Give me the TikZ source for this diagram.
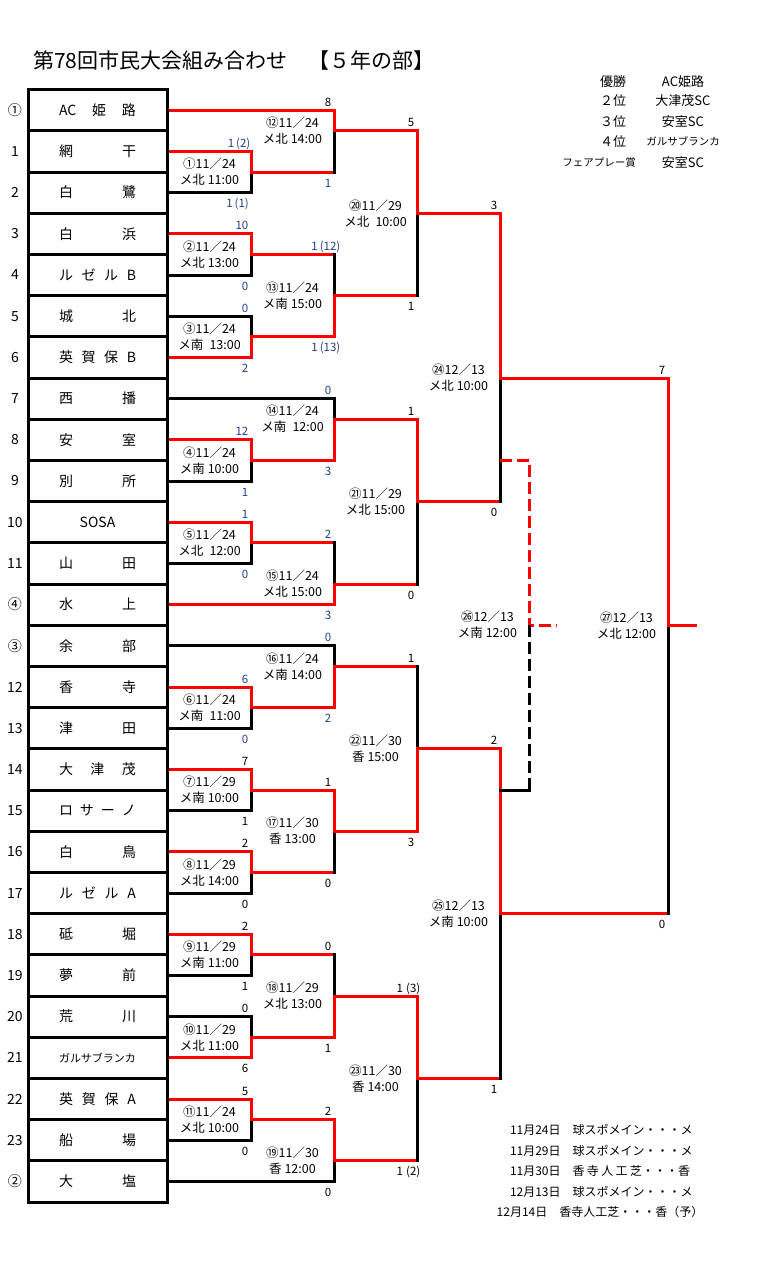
\documentclass[tikz,border=0pt]{standalone}
\usepackage{fontspec}
\setmainfont{Noto Sans CJK JP}
\usepackage{tikz}
\definecolor{bred}{RGB}{255,0,0}
\definecolor{navy}{RGB}{36,62,140}
\tikzstyle{won} = [draw=bred, line width=3pt, line cap=rect]
\tikzstyle{lost} = [draw=black, line width=3pt, line cap=rect]
\tikzset{
 team/.style
  = {rectangle, draw, line width=3pt, outer sep=3pt, inner sep=0pt,
     minimum width=139pt, minimum height=41.2pt, text width=77pt,
     align=center, font=\fontsize{14}{16}\selectfont},
 seed/.style
  = {font=\fontsize{14}{16}\selectfont},
 game/.style
  = {align=center, xshift=-41.5pt, inner sep=0pt, font=\fontsize{12.5}{16}\selectfont},
 scup/.style
  = {anchor=base east, yshift=4pt, inner sep=0pt, font=\fontsize{11.5}{13}\selectfont},
 scdn/.style
  = {anchor=base east, yshift=-15pt, inner sep=0pt, font=\fontsize{11.5}{13}\selectfont},
 rank/.style
  = {font=\fontsize{13}{15}\selectfont},
 ranks/.style
  = {font=\fontsize{10.5}{12}\selectfont},
 venue/.style
  = {text width=180pt, align=center, inner sep=0pt, font=\fontsize{12}{14}\selectfont},
}

\begin{document}
\begin{tikzpicture}[x=1pt, y=-20.6pt]
\useasboundingbox (0,-4.3495) rectangle (758,57.204);

% Title
\node[anchor=west, inner sep=0pt, font=\fontsize{21}{24}\selectfont] (ttl) at (33,-1.39)
  {第78回市民大会組み合わせ　【５年の部】};

% Teams
\foreach \sd/\nm [count=\i from 0] in {①/AC\hfill 姫\hfill 路, 1/網\hfill 干, 2/白\hfill 鷺,
  3/白\hfill 浜, 4/ル\hfill ゼ\hfill ル\hfill B, 5/城\hfill 北, 6/英\hfill 賀\hfill 保\hfill B,
  7/西\hfill 播, 8/安\hfill 室, 9/別\hfill 所, 10/SOSA, 11/山\hfill 田, ④/水\hfill 上,
  ③/余\hfill 部, 12/香\hfill 寺, 13/津\hfill 田, 14/大\hfill 津\hfill 茂,
  15/ロ\hfill サ\hfill ー\hfill ノ, 16/白\hfill 鳥, 17/ル\hfill ゼ\hfill ル\hfill A,
  18/砥\hfill 堀, 19/夢\hfill 前, 20/荒\hfill 川, 21/{\fontsize{11}{13}\selectfont ガルサブランカ},
  22/英\hfill 賀\hfill 保\hfill A, 23/船\hfill 場, ②/大\hfill 塩}
{
  \node[seed] (s\i) at (15,{2*\i+1}) {\sd};
  \node[team] (r\i) at (97.5,{2*\i+1}) {\nm};
}

% Match points
\foreach \m/\x/\h in {1/251/4, 2/251/8, 3/251/12, 4/251/18, 5/251/22, 6/251/30,
  7/251/34, 8/251/38, 9/251/42, 10/251/46, 11/251/50,
  12/334/2, 13/334/10, 14/334/16, 15/334/24, 16/334/28, 17/334/36, 18/334/44, 19/334/52,
  20/417/6, 21/417/20, 22/417/32, 23/417/48, 24/500/14, 25/500/40, 26/529/26, 27/668/26}
  \coordinate (g\m) at (\x,\h);
\coordinate (d1) at (500,18);
\coordinate (d2) at (500,34);
\coordinate (e26) at (557,26);
\coordinate (e27) at (695,26);

% Round 1
\foreach \m/\w/\l in {1/1/2, 2/3/4, 3/6/5, 4/8/9, 5/10/11, 6/14/15, 7/16/17,
  8/18/19, 9/20/21, 10/23/22, 11/24/25}
{
  \draw[lost] (r\l.east) -| (g\m);
  \draw[won] (r\w.east) -| (g\m);
}

% Seeded teams
\draw[lost] (r7.east) -| (g14);
\draw[lost] (r13.east) -| (g16);
\draw[lost] (r26.east) -| (g19);
\draw[won] (r0.east) -| (g12);
\draw[won] (r12.east) -| (g15);

% Later rounds
\foreach \s/\d in {1/12, 2/13, 5/15, 8/17, 9/18, 13/20, 15/21, 16/22, 19/23, 21/24, 23/25, 25/27}
  \draw[won] (g\s) -- (g\s -| g\d) edge[lost] (g\d);
\foreach \s/\d in {3/13, 4/14, 6/16, 7/17, 10/18, 11/19, 12/20, 14/21, 17/22, 18/23, 20/24, 22/25, 24/27}
  \draw[won] (g\s) -| (g\d);
\draw[won] (g27) -- (e27);

% Third place
\draw[won, line cap=butt, dash pattern=on 12pt off 5pt] (d1) -| (g26) -- (e26);
\draw[lost, line cap=butt, dash pattern=on 12pt off 5pt] (g26) -- (g26 |- d2) edge[lost, solid] (d2);

% Match labels
\foreach \m/\t in {1/{①11／24\\メ北 11:00}, 2/{②11／24\\メ北 13:00}, 3/{③11／24\\メ南\enspace 13:00},
  4/{④11／24\\メ南 10:00}, 5/{⑤11／24\\メ北\enspace 12:00}, 6/{⑥11／24\\メ南\enspace 11:00},
  7/{⑦11／29\\メ南 10:00}, 8/{⑧11／29\\メ北 14:00}, 9/{⑨11／29\\メ南 11:00},
  10/{⑩11／29\\メ北 11:00}, 11/{⑪11／24\\メ北 10:00}, 12/{⑫11／24\\メ北 14:00},
  13/{⑬11／24\\メ南 15:00}, 14/{⑭11／24\\メ南\enspace 12:00}, 15/{⑮11／24\\メ北 15:00},
  16/{⑯11／24\\メ南 14:00}, 17/{⑰11／30\\香 13:00}, 18/{⑱11／29\\メ北 13:00},
  19/{⑲11／30\\香 12:00}, 20/{⑳11／29\\メ北\enspace 10:00}, 21/{㉑11／29\\メ北 15:00},
  22/{㉒11／30\\香 15:00}, 23/{㉓11／30\\香 14:00}, 24/{㉔12／13\\メ北 10:00},
  25/{㉕12／13\\メ南 10:00}, 26/{㉖12／13\\メ南 12:00}, 27/{㉗12／13\\メ北 12:00}}
  \node[game] (l\m) at (g\m) {\t};

% Scores
\foreach \x/\h/\s [count=\k] in {250.5/3/1\,(2), 248.5/7/10, 248.5/11/0, 248.5/17/12, 248.5/21/1,
  248.5/29/6, 340.5/8/1\,(12), 331.5/15/0, 331.5/22/2, 331.5/27/0}
  \node[scup, text=navy] (bu\k) at (\x,\h) {\s};
\foreach \x/\h/\s [count=\k] in {249/5/1\,(1), 248.5/9/0, 248.5/13/2, 248.5/19/1, 248.5/23/0,
  248.5/31/0, 331.5/4/1, 340.5/12/1\,(13), 331.5/18/3, 331.5/25/3, 331.5/30/2}
  \node[scdn, text=navy] (bd\k) at (\x,\h) {\s};
\foreach \x/\h/\s [count=\k] in {248.5/33/7, 248.5/37/2, 248.5/41/2, 248.5/45/0, 248.5/49/5,
  331.5/1/8, 331.5/34/1, 331.5/42/0, 331.5/50/2, 414.5/2/5, 414.5/16/1, 414.5/28/1,
  420.5/44/1\;(3), 497.5/6/3, 497.5/32/2, 665.5/14/7}
  \node[scup] (ku\k) at (\x,\h) {\s};
\foreach \x/\h/\s [count=\k] in {248.5/35/1, 248.5/39/0, 248.5/43/1, 248.5/47/6, 248.5/51/0,
  331.5/38/0, 331.5/46/1, 331.5/53/0, 414.5/10/1, 414.5/24/0, 414.5/36/3,
  420.5/52/1\;(2), 497.5/20/0, 497.5/48/1, 665.5/40/0}
  \node[scdn] (kd\k) at (\x,\h) {\s};

% Results
\node[rank] (p1) at (613,-0.37) {優勝};
\node[rank] (q1) at (683,-0.37) {AC姫路};
\node[rank] (p2) at (613,0.55) {２位};
\node[rank] (q2) at (683,0.55) {大津茂SC};
\node[rank] (p3) at (613,1.53) {３位};
\node[rank] (q3) at (683,1.53) {安室SC};
\node[rank] (p4) at (613,2.5) {４位};
\node[ranks] (q4) at (683,2.5) {ガルサブランカ};
\node[ranks] (p5) at (599,3.52) {フェアプレー賞};
\node[rank] (q5) at (683,3.52) {安室SC};

% Venues
\foreach \t [count=\k] in {11月24日　球スポメイン・・・メ, 11月29日　球スポメイン・・・メ,
  11月30日　香\hfill 寺\hfill 人\hfill 工\hfill 芝・・・香, 12月13日　球スポメイン・・・メ}
  \node[venue] (v\k) at (600,{49.5+\k}) {\t};
\node[venue, text width=210pt] (v5) at (600,54.5) {12月14日　香寺人工芝・・・香（予）};

\end{tikzpicture}
\end{document}
